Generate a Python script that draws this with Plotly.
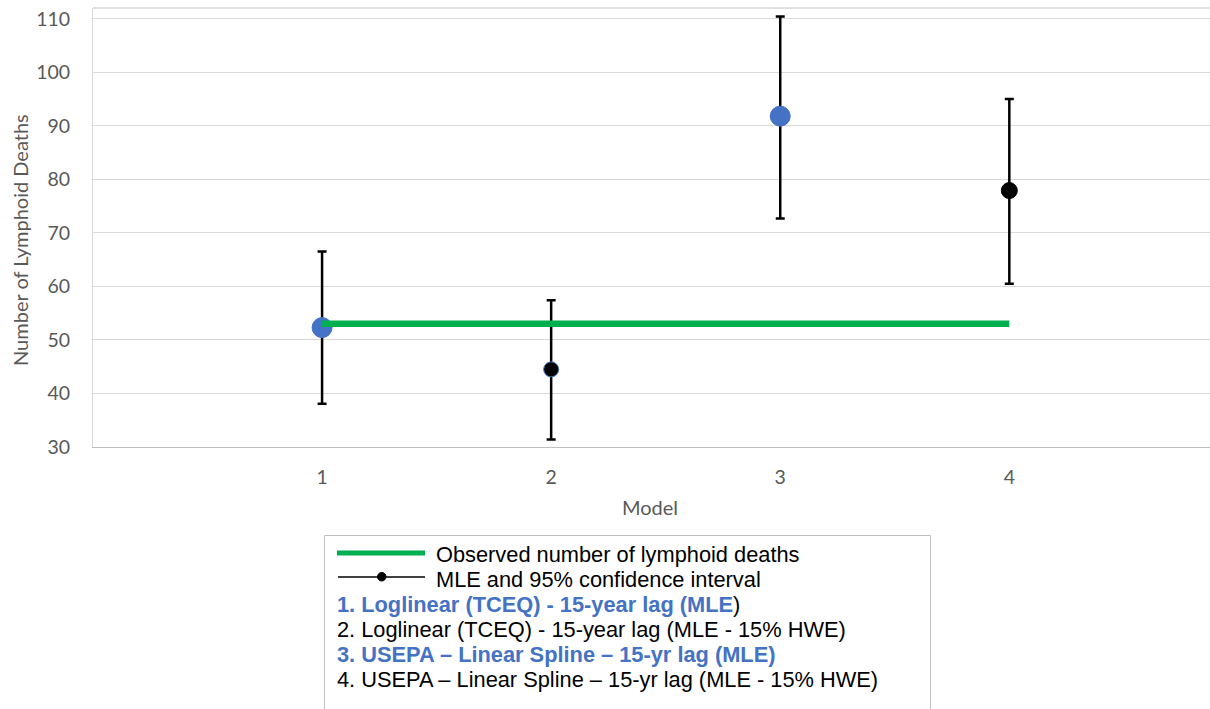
import plotly.graph_objects as go

# ---- data ----
models = [1, 2, 3, 4]
mle = [52.3, 44.5, 91.8, 77.9]
ci_lower = [38.1, 31.4, 72.7, 60.5]
ci_upper = [66.5, 57.4, 110.4, 95.0]
observed_x = [1, 4]
observed = [53, 53]
x_ticks = [1, 2, 3, 4]
y_ticks = [30, 40, 50, 60, 70, 80, 90, 100, 110]
marker_colors = ["#4472C4", "#000000", "#4472C4", "#000000"]
marker_sizes = [20, 15, 20, 16]
marker_lines = ["#4472C4", "#4472C4", "#4472C4", "#000000"]

legend_rows = [
    "<b><span style='color:#4472C4'>1. Loglinear (TCEQ) - 15-year lag (MLE</span></b>)",
    "2. Loglinear (TCEQ) - 15-year lag (MLE - 15% HWE)",
    "<b><span style='color:#4472C4'>3. USEPA \u2013 Linear Spline \u2013 15-yr lag (MLE)</span></b>",
    "4. USEPA \u2013 Linear Spline \u2013 15-yr lag (MLE - 15% HWE)",
]

W, H = 1210, 709
L, R, T, B = 93, 0, 8, 262
PW, PH = W - L - R, H - T - B


def px(x):
    return (x - L) / PW


def py(y):
    return (H - B - y) / PH


err_plus = [u - m for u, m in zip(ci_upper, mle)]
err_minus = [m - l for m, l in zip(mle, ci_lower)]

fig = go.Figure()
fig.add_trace(go.Scatter(
    x=models, y=mle, mode="markers",
    marker=dict(color=marker_colors, size=marker_sizes, opacity=1,
                line=dict(color=marker_lines, width=1)),
    error_y=dict(type="data", symmetric=False, array=err_plus, arrayminus=err_minus,
                 color="#000000", thickness=2.5, width=4.5),
    showlegend=False, cliponaxis=False,
))
fig.add_trace(go.Scatter(
    x=observed_x, y=observed, mode="lines",
    line=dict(color="#00B050", width=6.5),
    showlegend=False, cliponaxis=False,
))

tick_font = dict(family="Lato, Calibri, sans-serif", size=19.5, color="#595959")

fig.update_layout(
    width=W, height=H,
    margin=dict(l=L, r=R, t=T, b=B, pad=0),
    paper_bgcolor="white", plot_bgcolor="white",
    showlegend=False,
    xaxis=dict(range=[0, 4.876], tickvals=x_ticks, ticktext=[str(v) for v in x_ticks],
               showgrid=False, zeroline=False, showline=True, linecolor="#BFBFBF",
               linewidth=1, ticks="", tickfont=tick_font, ticklabelstandoff=13),
    yaxis=dict(range=[30, 112], tickvals=y_ticks, showgrid=True, gridcolor="#D9D9D9",
               gridwidth=1, zeroline=False, showline=True, linecolor="#D9D9D9",
               linewidth=1, ticks="", tickfont=tick_font, ticklabelstandoff=18),
)

shapes = []
# top frame line
shapes.append(dict(type="line", xref="paper", yref="paper", x0=0, x1=1, y0=1, y1=1,
                   line=dict(color="#BFBFBF", width=1)))
# legend box
shapes.append(dict(type="rect", xref="paper", yref="paper",
                   x0=px(324.5), x1=px(930.5), y0=py(715), y1=py(535.5),
                   line=dict(color="#BFBFBF", width=1), fillcolor="rgba(0,0,0,0)"))
# legend symbols
shapes.append(dict(type="line", xref="paper", yref="paper",
                   x0=px(337), x1=px(425), y0=py(553), y1=py(553),
                   line=dict(color="#00B050", width=5)))
shapes.append(dict(type="line", xref="paper", yref="paper",
                   x0=px(338), x1=px(425), y0=py(577), y1=py(577),
                   line=dict(color="#000000", width=1.5)))
shapes.append(dict(type="circle", xref="paper", yref="paper",
                   x0=px(377.5), x1=px(386), y0=py(581), y1=py(572.5),
                   line=dict(color="#000000", width=1), fillcolor="#000000"))
fig.update_layout(shapes=shapes)

leg_font = dict(family="Liberation Sans, Arial, sans-serif", size=21.8, color="#000000")
annotations = [
    dict(text="Number of Lymphoid Deaths", xref="paper", yref="paper",
         x=px(20), y=py(240), textangle=-90, showarrow=False,
         xanchor="center", yanchor="middle",
         font=dict(family="Lato, Calibri, sans-serif", size=20, color="#595959")),
    dict(text="Model", xref="paper", yref="paper", x=px(650), y=py(507),
         showarrow=False, xanchor="center", yanchor="middle",
         font=dict(family="Lato, Calibri, sans-serif", size=20, color="#595959")),
    dict(text="Observed number of lymphoid deaths", xref="paper", yref="paper",
         x=px(434), y=py(554), showarrow=False, xanchor="left", yanchor="middle",
         font=leg_font),
    dict(text="MLE and 95% confidence interval", xref="paper", yref="paper",
         x=px(434), y=py(579), showarrow=False, xanchor="left", yanchor="middle",
         font=leg_font),
]
for i, t in enumerate(legend_rows):
    annotations.append(dict(text=t, xref="paper", yref="paper",
                            x=px(335), y=py(604 + 25 * i), showarrow=False,
                            xanchor="left", yanchor="middle", font=leg_font))
fig.update_layout(annotations=annotations)

fig.write_html("out.html")
